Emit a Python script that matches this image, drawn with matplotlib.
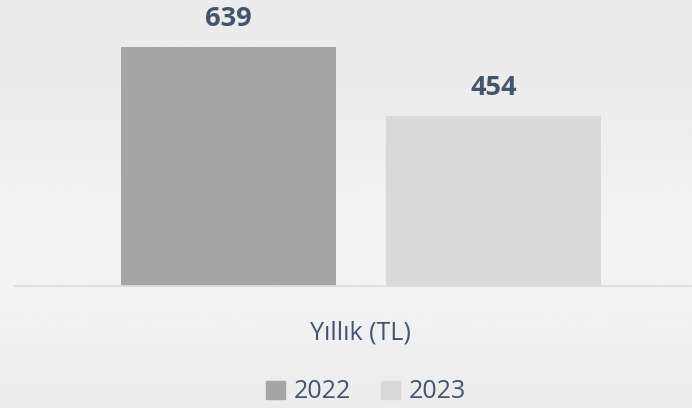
import numpy as np
import matplotlib.pyplot as plt
from matplotlib.patches import Patch

# Données
categorie = "Yıllık (TL)"
annees = ["2022", "2023"]
valeurs = [639, 454]
couleurs = ["#a6a6a6", "#d9d9d9"]
texte_couleur = "#44546a"

plt.rcParams['font.family'] = ['Open Sans', 'DejaVu Sans']

fig = plt.figure(figsize=(6.92, 4.08), dpi=100)

# Fond en dégradé vertical (plus clair au milieu)
fond = fig.add_axes([0, 0, 1, 1], zorder=0)
t = np.linspace(0, 1, 256)
gris = 0.922 + 0.03 * np.exp(-((t - 0.62) / 0.28) ** 2)
fond.imshow(np.tile(gris[:, None], (1, 4)), cmap='gray', vmin=0, vmax=1,
            aspect='auto', extent=[0, 1, 0, 1], origin='upper')
fond.axis('off')

# Axe principal
ax = fig.add_axes([14 / 692, 122 / 408, 678 / 692, 286 / 408], zorder=1)
ax.patch.set_alpha(0)

largeur = 0.3
ecart = 0.0698
positions = [-(largeur + ecart) / 2, (largeur + ecart) / 2]
barres = ax.bar(positions, valeurs, width=largeur, color=couleurs, zorder=2)

for b, v in zip(barres, valeurs):
    ax.annotate(str(v), (b.get_x() + b.get_width() / 2, v), xytext=(0, 20),
                textcoords='offset points', ha='center', va='center',
                fontsize=19.5, fontweight='bold', color=texte_couleur)

ax.set_xlim(-0.484, 0.462)
ax.set_ylim(0, 765)
for s in ['top', 'right', 'left']:
    ax.spines[s].set_visible(False)
ax.spines['bottom'].set_color('#d6dde4')
ax.spines['bottom'].set_linewidth(1.3)
ax.set_yticks([])
ax.set_xticks([0])
ax.set_xticklabels([categorie], fontsize=18, color=texte_couleur)
ax.tick_params(axis='x', length=0, pad=25)

# Légende
poignees = [Patch(color=c, label=a) for a, c in zip(annees, couleurs)]
fig.legend(handles=poignees, loc='center', bbox_to_anchor=(366 / 692, 1 - 392 / 408),
           ncol=2, frameon=False, fontsize=18, labelcolor=texte_couleur,
           handlelength=0.75, handleheight=0.75, handletextpad=0.35, columnspacing=1.2)

fig.savefig("out.png", dpi=100)
